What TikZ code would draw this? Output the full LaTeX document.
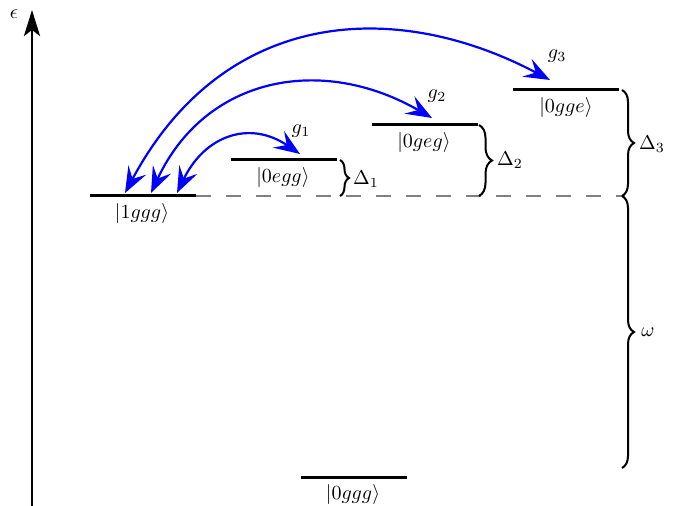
\documentclass[tikz,border=0pt]{standalone}
\usetikzlibrary{arrows.meta,decorations.pathreplacing}
\begin{document}
\begin{tikzpicture}[x=0.5pt,y=-0.5pt,
  level/.style={line width=1.5pt},
  coup/.style={blue, line width=1.1pt,
    {Stealth[length=13pt,width=10pt,inset=5pt]}-{Stealth[length=13pt,width=10pt,inset=5pt]}},
  brc/.style={decorate, line width=1pt},
  lbl/.style={inner sep=0pt}]
\useasboundingbox (0,0) rectangle (680,506);
% axis
\coordinate (ax0) at (32,506);
\coordinate (ax1) at (32,10);
\draw[line width=1.4pt, -{Stealth[length=13pt,width=8pt,inset=3pt]}] (ax0) -- (ax1);
\node[lbl] (eps) at (14,14) {$\epsilon$};
% levels
\coordinate (A1) at (90,196);  \coordinate (A2) at (196,196);
\coordinate (B1) at (231,160); \coordinate (B2) at (337,160);
\coordinate (C1) at (372,125); \coordinate (C2) at (478,125);
\coordinate (D1) at (513,90);  \coordinate (D2) at (619,90);
\coordinate (G1) at (301,478); \coordinate (G2) at (407,478);
\coordinate (dashend) at (625,196);
\draw[gray, line width=0.8pt, dash pattern=on 7.5pt off 7.5pt] (A2) -- (dashend);
\draw[level] (A1) -- (A2);
\draw[level] (B1) -- (B2);
\draw[level] (C1) -- (C2);
\draw[level] (D1) -- (D2);
\draw[level] (G1) -- (G2);
\node[lbl] (l1ggg) at (142,214) {$|1ggg\rangle$};
\node[lbl] (l0egg) at (283,178) {$|0egg\rangle$};
\node[lbl] (l0geg) at (424,143) {$|0geg\rangle$};
\node[lbl] (l0gge) at (566,108) {$|0gge\rangle$};
\node[lbl] (l0ggg) at (353,495) {$|0ggg\rangle$};
% couplings
\coordinate (s1) at (177,193); \coordinate (e1) at (300,154);
\coordinate (s2) at (151,193); \coordinate (e2) at (432,118);
\coordinate (s3) at (125,193); \coordinate (e3) at (550,80);
\draw[coup] (s1) .. controls (205,135) and (250,120) .. (e1);
\draw[coup] (s2) .. controls (205,77) and (321,54) .. (e2);
\draw[coup] (s3) .. controls (224,8) and (395,-2) .. (e3);
\node[lbl] (g1) at (301,131) {$g_1$};
\node[lbl] (g2) at (437,96) {$g_2$};
\node[lbl] (g3) at (557,56) {$g_3$};
% braces
\coordinate (b1t) at (340,160); \coordinate (b1b) at (340,196);
\coordinate (b2t) at (479,125); \coordinate (b2b) at (479,196);
\coordinate (b3t) at (622,90);  \coordinate (b3b) at (622,196);
\coordinate (bwt) at (622,196); \coordinate (bwb) at (622,468);
\draw[brc, decoration={brace,amplitude=4.5pt}] (b1t) -- (b1b);
\draw[brc, decoration={brace,amplitude=6.5pt}] (b2t) -- (b2b);
\draw[brc, decoration={brace,amplitude=6pt}] (b3t) -- (b3b);
\draw[brc, decoration={brace,amplitude=6pt}] (bwt) -- (bwb);
\node[lbl] (d1) at (366,179) {$\Delta_1$};
\node[lbl] (d2) at (510,160) {$\Delta_2$};
\node[lbl] (d3) at (652,144) {$\Delta_3$};
\node[lbl] (om) at (648,332) {$\omega$};
\end{tikzpicture}
\end{document}
